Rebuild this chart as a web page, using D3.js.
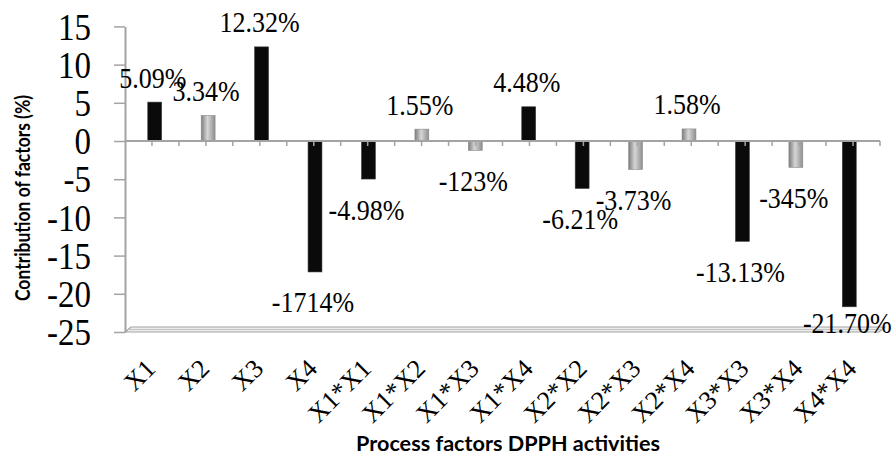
<!DOCTYPE html>
<html>
<head>
<meta charset="utf-8">
<script src="https://cdn.jsdelivr.net/npm/d3@7"></script>
<style>
  body { margin: 0; background: #fff; }
  svg { display: block; }
  svg text.serif { font-family: "Liberation Serif" !important; }
  svg text.sans { font-family: "Lato" !important; font-weight: bold; }
</style>
</head>
<body>
<svg id="chart" width="894" height="468" font-family="Liberation Serif"></svg>
<script>
// Contribution of each process factor (and interaction) to DPPH activity
const factors = ["X1", "X2", "X3", "X4", "X1*X1", "X1*X2", "X1*X3", "X1*X4",
                 "X2*X2", "X2*X3", "X2*X4", "X3*X3", "X3*X4", "X4*X4"];
const contributions = [5.09, 3.34, 12.32, -17.14, -4.98, 1.55, -1.23, 4.48,
                       -6.21, -3.73, 1.58, -13.13, -3.45, -21.70];
const valueLabels = ["5.09%", "3.34%", "12.32%", "-1714%", "-4.98%", "1.55%", "-123%", "4.48%",
                     "-6.21%", "-3.73%", "1.58%", "-13.13%", "-345%", "-21.70%"];
const significant = [true, false, true, true, true, false, false, true,
                     true, false, false, true, false, true];
const yTicks = [15, 10, 5, 0, -5, -10, -15, -20, -25];

const svg = d3.select("#chart");
const axisGray = "#a3a3a3";
const stretch = "scale(1,1.15)";

const y = d3.scaleLinear().domain([-25, 15]).range([332, 26.4]);
const xFront = d3.scaleLinear().domain([0, factors.length]).range([125, 880]);
const xBar = d3.scaleBand().domain(factors).range([128, 876])
  .paddingInner(0.74).paddingOuter(0.37);
const fill = d3.scaleOrdinal().domain([true, false]).range(["#0a0a0a", "url(#lightBar)"]);

// gradient for the lighter bars
const grad = svg.append("defs").append("linearGradient")
  .attr("id", "lightBar").attr("x1", "0%").attr("x2", "100%");
grad.append("stop").attr("offset", "0%").attr("stop-color", "#7c7c7c");
grad.append("stop").attr("offset", "45%").attr("stop-color", "#d6d6d6");
grad.append("stop").attr("offset", "100%").attr("stop-color", "#8e8e8e");

// floor of the plot
const yb = y(-25);
svg.append("polygon")
  .attr("points", [[125, yb], [131, yb - 5], [885, yb - 5], [879, yb]].map(p => p.join(",")).join(" "))
  .attr("fill", "#ececec").attr("stroke", axisGray).attr("stroke-width", 1.2);
svg.append("line")
  .attr("x1", 128).attr("x2", 882).attr("y1", yb - 2.5).attr("y2", yb - 2.5)
  .attr("stroke", "#c4c4c4").attr("stroke-width", 1);

// y axis line and ticks
const yAxis = svg.append("g")
  .attr("transform", "translate(125,0)")
  .call(d3.axisLeft(y).tickValues(yTicks).tickSize(11).tickSizeOuter(0).tickFormat(() => ""));
yAxis.select(".domain").attr("stroke", axisGray).attr("stroke-width", 2);
yAxis.selectAll(".tick line").attr("stroke", axisGray).attr("stroke-width", 1.5);
yAxis.selectAll(".tick text").remove();

// y tick labels
svg.selectAll("text.ytick")
  .data(yTicks)
  .join("text")
  .attr("class", "ytick serif")
  .attr("font-family", "Liberation Serif")
  .attr("transform", d => `translate(91,${y(d)}) ${stretch}`)
  .attr("dy", "0.35em")
  .attr("text-anchor", "end")
  .attr("font-size", 33)
  .attr("fill", "#000")
  .text(d => d < 0 ? "-" + Math.abs(d) : d);

// bars
svg.selectAll("rect.bar")
  .data(factors)
  .join("rect")
  .attr("class", "bar")
  .attr("x", d => xBar(d))
  .attr("width", xBar.bandwidth())
  .attr("y", (d, i) => y(Math.max(0, contributions[i])))
  .attr("height", (d, i) => Math.abs(y(contributions[i]) - y(0)))
  .attr("fill", (d, i) => fill(significant[i]))
  .attr("stroke", (d, i) => significant[i] ? "#3a3a3a" : "#8a8a8a")
  .attr("stroke-width", 0.6);

// zero line with half-category ticks
const y0 = y(0);
svg.append("line")
  .attr("x1", 125).attr("x2", 880).attr("y1", y0).attr("y2", y0)
  .attr("stroke", axisGray).attr("stroke-width", 2);
svg.selectAll("line.xtick")
  .data(d3.range(1, factors.length * 2 + 1))
  .join("line")
  .attr("class", "xtick")
  .attr("x1", k => xFront(k / 2)).attr("x2", k => xFront(k / 2))
  .attr("y1", y0).attr("y2", y0 + 5)
  .attr("stroke", axisGray).attr("stroke-width", 1.5);

// value labels
svg.selectAll("text.vlab")
  .data(factors)
  .join("text")
  .attr("class", "vlab serif")
  .attr("font-family", "Liberation Serif")
  .attr("transform", (d, i) => {
    const v = contributions[i];
    const cx = xBar(d) + xBar.bandwidth() / 2 - 2;
    const cy = v >= 0 ? y(v) - 25 : Math.min(y(v) + 30, yb - 9);
    return `translate(${cx},${cy}) ${stretch}`;
  })
  .attr("dy", "0.35em")
  .attr("text-anchor", "middle")
  .attr("font-size", 26)
  .attr("fill", "#000")
  .text((d, i) => valueLabels[i]);

// category labels, slanted
svg.selectAll("text.xlab")
  .data(factors)
  .join("text")
  .attr("class", "xlab serif")
  .attr("font-family", "Liberation Serif")
  .attr("transform", (d, i) => `translate(${xFront(i + 0.5) + 5},370) rotate(-45)`)
  .attr("text-anchor", "end")
  .attr("font-size", 26)
  .attr("fill", "#000")
  .text(d => d);

// axis titles
svg.append("text")
  .attr("class", "sans")
  .attr("transform", "translate(22,198) rotate(-90)")
  .attr("text-anchor", "middle").attr("dominant-baseline", "central")
  .attr("font-size", 20)
  .attr("textLength", 206).attr("lengthAdjust", "spacingAndGlyphs")
  .text("Contribution of factors (%)");

svg.append("text")
  .attr("class", "sans")
  .attr("x", 508).attr("y", 451)
  .attr("text-anchor", "middle")
  .attr("font-size", 21)
  .attr("textLength", 304).attr("lengthAdjust", "spacingAndGlyphs")
  .text("Process factors DPPH activities");
</script>
</body>
</html>
